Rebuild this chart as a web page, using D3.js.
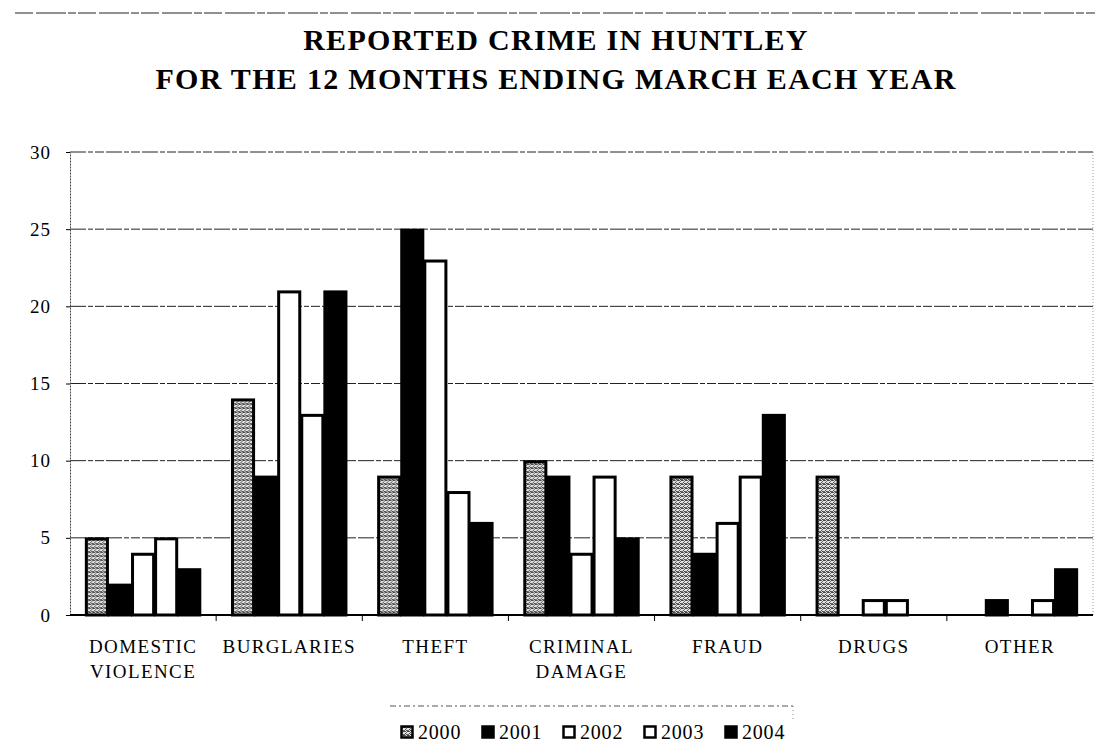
<!DOCTYPE html>
<html>
<head>
<meta charset="utf-8">
<script src="https://cdn.jsdelivr.net/npm/d3@7"></script>
<style>
  html, body { margin: 0; padding: 0; background: #fff; }
  svg { display: block; }
  text { font-family: "Liberation Serif", "Times New Roman", serif; fill: #000; }
</style>
</head>
<body>
<div id="chart"></div>
<script>
const titleLines = ["REPORTED CRIME IN HUNTLEY", "FOR THE 12 MONTHS ENDING MARCH EACH YEAR"];
const categories = ["DOMESTIC VIOLENCE", "BURGLARIES", "THEFT", "CRIMINAL DAMAGE", "FRAUD", "DRUGS", "OTHER"];
const categoryLabels = [["DOMESTIC", "VIOLENCE"], ["BURGLARIES"], ["THEFT"], ["CRIMINAL", "DAMAGE"], ["FRAUD"], ["DRUGS"], ["OTHER"]];
const years = ["2000", "2001", "2002", "2003", "2004"];
const values2000 = [5, 14, 9, 10, 9, 9, 0];
const values2001 = [2, 9, 25, 9, 4, 0, 1];
const values2002 = [4, 21, 23, 4, 6, 1, 0];
const values2003 = [5, 13, 8, 9, 9, 1, 1];
const values2004 = [3, 21, 6, 5, 13, 0, 3];
const yTicks = [0, 5, 10, 15, 20, 25, 30];

const seriesValues = [values2000, values2001, values2002, values2003, values2004];
const fills = ["url(#stipple)", "#000", "#fff", "#fff", "#000"];

const width = 1101;
const height = 754;
const margins = { top: 152, right: 8, bottom: 139, left: 70 };

const svg = d3.select("#chart").append("svg")
  .attr("width", width)
  .attr("height", height);

// stippled grey fill used for the 2000 series
const dots = [[0, 0], [2, 1], [1, 2], [3, 3], [3, 0], [0, 3], [2, 3], [1, 0]];
const pat = svg.append("defs").append("pattern")
  .attr("id", "stipple")
  .attr("width", 4)
  .attr("height", 4)
  .attr("patternUnits", "userSpaceOnUse");
pat.append("rect").attr("width", 4).attr("height", 4).attr("fill", "#e4e4e4");
pat.selectAll(".dot")
  .data(dots)
  .enter()
  .append("rect")
  .attr("x", (d) => d[0])
  .attr("y", (d) => d[1])
  .attr("width", 1)
  .attr("height", 1)
  .attr("fill", (d, i) => (i % 2 ? "#666" : "#444"));

// page rule at the top
svg.append("line")
  .attr("x1", 15).attr("x2", 1095)
  .attr("y1", 13).attr("y2", 13)
  .attr("stroke", "#222")
  .attr("stroke-width", 1)
  .attr("stroke-dasharray", "18 3 30 2 8 2");

svg.append("g")
  .selectAll("text")
  .data(titleLines)
  .enter()
  .append("text")
  .attr("x", 556)
  .attr("y", (d, i) => 50 + i * 39)
  .attr("text-anchor", "middle")
  .attr("font-size", 30)
  .attr("font-weight", "bold")
  .attr("letter-spacing", 1.3)
  .text((d) => d);

const x = d3.scaleBand()
  .domain(categories)
  .range([margins.left, width - margins.right])
  .paddingInner(0.21)
  .paddingOuter(0.105);

const xYear = d3.scaleBand()
  .domain(years)
  .range([0, x.bandwidth()]);

const y = d3.scaleLinear()
  .domain([0, 30])
  .range([height - margins.bottom, margins.top]);

// gridlines
svg.append("g")
  .selectAll("line")
  .data(yTicks.filter((d) => d > 0))
  .enter()
  .append("line")
  .attr("x1", margins.left)
  .attr("x2", width - margins.right)
  .attr("y1", (d) => y(d))
  .attr("y2", (d) => y(d))
  .attr("stroke", "#222")
  .attr("stroke-width", 1)
  .attr("stroke-dasharray", "16 2 5 2 9 2");

// plot right border
svg.append("line")
  .attr("x1", width - margins.right).attr("x2", width - margins.right)
  .attr("y1", y(30)).attr("y2", y(0))
  .attr("stroke", "#999")
  .attr("stroke-dasharray", "1 2");

// y axis
const yAxis = svg.append("g")
  .attr("transform", `translate(${margins.left}, 0)`)
  .call(d3.axisLeft(y).tickValues(yTicks).tickSizeInner(4).tickSizeOuter(0).tickPadding(15));
yAxis.select(".domain").attr("stroke", "#444").attr("stroke-dasharray", "2 1");
yAxis.selectAll(".tick text")
  .attr("font-family", "Liberation Serif, serif")
  .attr("font-size", 19)
  .attr("letter-spacing", 1)
  .attr("fill", "#000");

// bars
const groups = svg.append("g")
  .selectAll("g")
  .data(categories)
  .enter()
  .append("g")
  .attr("transform", (d) => `translate(${x(d)}, 0)`);

groups.selectAll("rect")
  .data((d, ci) => years.map((yr, si) => ({ year: yr, si, value: seriesValues[si][ci] })).filter((b) => b.value > 0))
  .enter()
  .append("rect")
  .attr("x", (d) => xYear(d.year) + 1)
  .attr("y", (d) => y(d.value) + 1)
  .attr("width", xYear.bandwidth() - 2)
  .attr("height", (d) => y(0) - y(d.value) - 1)
  .attr("fill", (d) => fills[d.si])
  .attr("stroke", "#000")
  .attr("stroke-width", 3);

// x axis
const xAxis = svg.append("g")
  .attr("transform", `translate(0, ${y(0)})`);
xAxis.append("line")
  .attr("x1", margins.left)
  .attr("x2", width - margins.right)
  .attr("stroke", "#000")
  .attr("stroke-width", 2);
xAxis.selectAll(".sep")
  .data(categories.slice(1))
  .enter()
  .append("line")
  .attr("class", "sep")
  .attr("x1", (d) => x(d) - x.step() * x.paddingInner() / 2)
  .attr("x2", (d) => x(d) - x.step() * x.paddingInner() / 2)
  .attr("y1", 0)
  .attr("y2", 6)
  .attr("stroke", "#000");

const labels = xAxis.selectAll(".cat")
  .data(categories)
  .enter()
  .append("text")
  .attr("class", "cat")
  .attr("text-anchor", "middle")
  .attr("font-size", 19)
  .attr("letter-spacing", 1.4)
  .attr("x", (d) => x(d) + x.bandwidth() / 2);
labels.selectAll("tspan")
  .data((d, i) => categoryLabels[i])
  .enter()
  .append("tspan")
  .attr("x", function () { return d3.select(this.parentNode).attr("x"); })
  .attr("y", (d, i) => 38 + i * 25)
  .text((d) => d);

// legend
const legendX = 400;
const legendY = 739;
const legendStep = 81;
svg.append("line")
  .attr("x1", 390).attr("x2", 793)
  .attr("y1", 706).attr("y2", 706)
  .attr("stroke", "#555")
  .attr("stroke-dasharray", "6 3 2 3");
svg.append("line")
  .attr("x1", 793).attr("x2", 793)
  .attr("y1", 706).attr("y2", 722)
  .attr("stroke", "#888")
  .attr("stroke-dasharray", "1 3");

const legend = svg.append("g")
  .selectAll("g")
  .data(years)
  .enter()
  .append("g")
  .attr("transform", (d, i) => `translate(${legendX + i * legendStep}, ${legendY})`);
legend.append("rect")
  .attr("x", 1.5)
  .attr("y", -12.5)
  .attr("width", 11)
  .attr("height", 11)
  .attr("fill", (d, i) => fills[i])
  .attr("stroke", "#000")
  .attr("stroke-width", 2.5);
legend.append("text")
  .attr("x", 18)
  .attr("y", 0)
  .attr("font-size", 20)
  .attr("letter-spacing", 0.8)
  .text((d) => d);
</script>
</body>
</html>
